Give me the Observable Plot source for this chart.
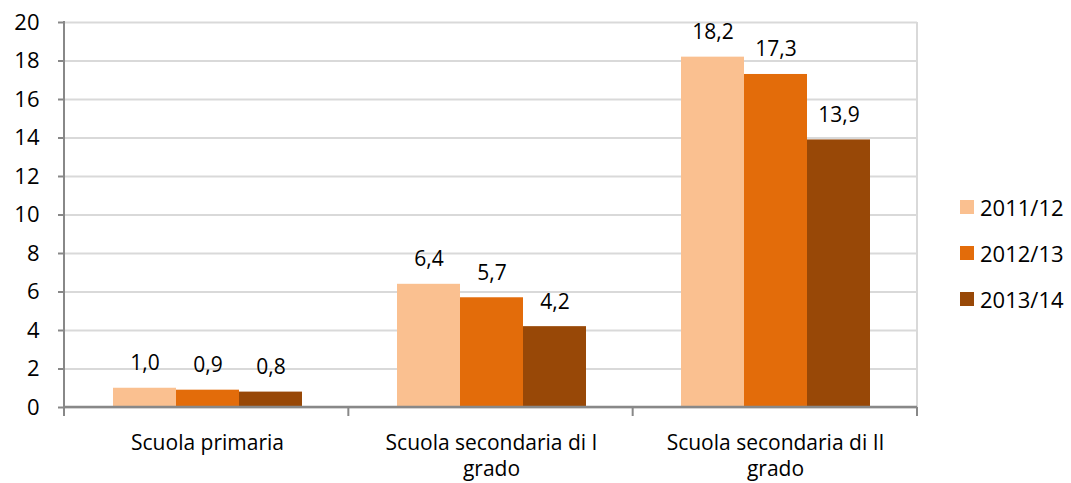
<!DOCTYPE html>
<html>
<head>
<meta charset="utf-8">
<script src="https://cdn.jsdelivr.net/npm/d3@7"></script>
<script src="https://cdn.jsdelivr.net/npm/@observablehq/plot@0.6"></script>
<style>
  html, body { margin: 0; padding: 0; background: #fff; }
  #wrap { position: relative; width: 1071px; height: 483px; font-family: "Open Sans", sans-serif; }
  #legend { position: absolute; left: 960px; top: 184px; font-size: 22px; color: #000; }
  #legend .row { display: flex; align-items: center; height: 46px; }
  #legend .sw { width: 14px; height: 14px; margin-right: 6px; }
</style>
</head>
<body>
<div id="wrap"><div id="legend"></div></div>
<script>
const categories = ["Scuola primaria", "Scuola secondaria di I grado", "Scuola secondaria di II grado"];
const categoryLabels = ["Scuola primaria", "Scuola secondaria di I\ngrado", "Scuola secondaria di II\ngrado"];
const years = ["2011/12", "2012/13", "2013/14"];
const colors = ["#FAC090", "#E36C0A", "#984807"];
const values2011 = [1.0, 6.4, 18.2];
const values2012 = [0.9, 5.7, 17.3];
const values2013 = [0.8, 4.2, 13.9];
const yTicks = [0, 2, 4, 6, 8, 10, 12, 14, 16, 18, 20];

const series = [values2011, values2012, values2013];
const data = [];
categories.forEach((c, i) => years.forEach((yr, j) => data.push({category: c, year: yr, value: series[j][i]})));

const fmt = v => v.toFixed(1).replace(".", ",");
const labelOf = c => categoryLabels[categories.indexOf(c)];

const marginLeft = 64, marginRight = 154, marginTop = 22, marginBottom = 76;
const FS = 21;

function decorations(index, scales, values, dimensions) {
  const {width, height} = dimensions;
  const x0 = marginLeft, x1 = width - marginRight;
  const y0 = height - marginBottom, yTop = marginTop;
  const g = d3.create("svg:g");
  g.append("line").attr("x1", x1).attr("x2", x1).attr("y1", yTop).attr("y2", y0)
    .attr("stroke", "#d9d9d9").attr("stroke-width", 2);
  g.append("line").attr("x1", x0).attr("x2", x0).attr("y1", yTop - 1).attr("y2", y0 + 8)
    .attr("stroke", "#888").attr("stroke-width", 2);
  g.append("line").attr("x1", x0).attr("x2", x1).attr("y1", y0).attr("y2", y0)
    .attr("stroke", "#888").attr("stroke-width", 2.5);
  const step = (x1 - x0) / categories.length;
  for (let i = 0; i <= categories.length; i++) {
    const x = x0 + i * step;
    g.append("line").attr("x1", x).attr("x2", x).attr("y1", y0).attr("y2", y0 + 9)
      .attr("stroke", "#888").attr("stroke-width", 2);
  }
  return g.node();
}

const chart = Plot.plot({
  width: 1071,
  height: 483,
  marginLeft, marginRight, marginTop, marginBottom,
  style: {fontFamily: "'Open Sans', sans-serif", fontSize: FS + "px", color: "#000", background: "transparent"},
  fx: {domain: categories, padding: 0, label: null, axis: null},
  x: {domain: years, paddingInner: 0, paddingOuter: 0.745, axis: null},
  y: {domain: [0, 20], label: null, axis: null},
  color: {domain: years, range: colors},
  marks: [
    Plot.gridY(yTicks, {stroke: "#d9d9d9", strokeOpacity: 1, strokeWidth: 2}),
    Plot.barY(data, {fx: "category", x: "year", y: "value", fill: "year"}),
    Plot.text(data, {fx: "category", x: "year", y: "value", text: d => fmt(d.value), dy: -18, lineAnchor: "bottom", fontSize: FS, fill: "#000"}),
    Plot.axisY(yTicks, {anchor: "left", tickSize: 7, tickPadding: 19, stroke: "#888", strokeWidth: 2, fontSize: 22, fill: "#000", label: null}),
    Plot.axisFx({anchor: "bottom", tickSize: 0, tickPadding: 23, fontSize: FS, lineHeight: 1.28, tickFormat: labelOf, label: null, fill: "#000"}),
    Plot.frame({facet: "super", stroke: "none", render: decorations})
  ]
});
const wrap = document.getElementById("wrap");
wrap.insertBefore(chart, wrap.firstChild);

const legend = document.getElementById("legend");
years.forEach((yr, j) => {
  const row = document.createElement("div");
  row.className = "row";
  row.innerHTML = `<div class="sw" style="background:${colors[j]}"></div><span>${yr}</span>`;
  legend.appendChild(row);
});
</script>
</body>
</html>
